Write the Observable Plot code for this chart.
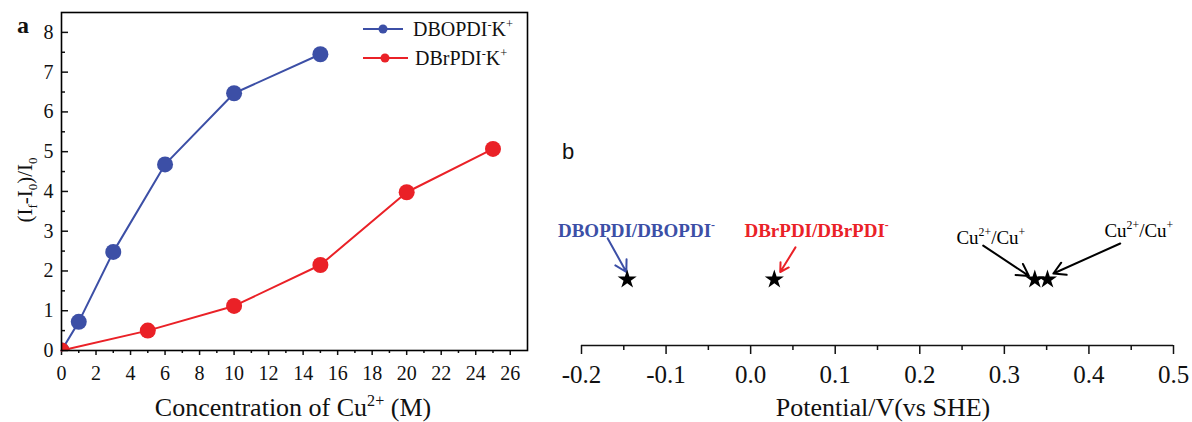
<!DOCTYPE html>
<html><head><meta charset="utf-8">
<script src="https://cdn.jsdelivr.net/npm/d3@7"></script>
<script src="https://cdn.jsdelivr.net/npm/@observablehq/plot@0.6"></script>
<style>
html,body{margin:0;padding:0;background:#fff;}
#wrap{position:relative;width:1192px;height:422px;overflow:hidden;font-family:"Liberation Serif",serif;}
#pa{position:absolute;left:0;top:0;}
#pb{position:absolute;left:540px;top:0;}
#wrap svg, #wrap svg text{font-family:"Liberation Serif",serif;}
</style></head><body>
<div id="wrap"><div id="pa"></div><div id="pb"></div></div>
<script>
// ---------- panel a data ----------
const concBlue = [0, 1, 3, 6, 10, 15];
const ratioBlue = [0, 0.72, 2.48, 4.68, 6.47, 7.45];
const concRed = [0, 5, 10, 15, 20, 25];
const ratioRed = [0, 0.5, 1.12, 2.15, 3.98, 5.07];
const seriesNames = ["DBOPDI^{-}K^{+}", "DBrPDI^{-}K^{+}"];
const seriesColors = ["#3c4fa6", "#ea2127"];
const xTicksA = [0, 2, 4, 6, 8, 10, 12, 14, 16, 18, 20, 22, 24, 26];
const xMinorA = [1, 3, 5, 7, 9, 11, 13, 15, 17, 19, 21, 23, 25];
const yTicksA = [0, 1, 2, 3, 4, 5, 6, 7, 8];
const yMinorA = [0.5, 1.5, 2.5, 3.5, 4.5, 5.5, 6.5, 7.5];

// ---------- panel b data ----------
const couples = ["DBOPDI/DBOPDI^{-}", "DBrPDI/DBrPDI^{-}", "Cu^{2+}/Cu^{+}", "Cu^{2+}/Cu^{+}"];
const potentials = [-0.146, 0.028, 0.336, 0.351];
const coupleColors = ["#3c4fa6", "#ea2127", "#000000", "#000000"];
const coupleBold = [true, true, false, false];
const starLevel = 0.22;
const labelX = [-0.135, 0.078, 0.284, 0.459];
const labelY = [0.383, 0.383, 0.36, 0.383];
const arrowX1 = [-0.169, 0.053, 0.275, 0.437];
const arrowY1 = [0.357, 0.327, 0.333, 0.34];
const arrowX2 = [-0.147, 0.035, 0.329, 0.358];
const arrowY2 = [0.245, 0.245, 0.232, 0.24];
const xTicksB = [-0.2, -0.1, 0, 0.1, 0.2, 0.3, 0.4, 0.5];
const xMinorB = [-0.15, -0.05, 0.05, 0.15, 0.25, 0.35, 0.45];

// ---------- helpers ----------
function richify(root) {
  d3.select(root).selectAll("text").each(function () {
    const t = this.textContent;
    if (!/[\^_]\{/.test(t)) return;
    const fs = parseFloat(getComputedStyle(this).fontSize) || 16;
    const sel = d3.select(this);
    sel.text(null);
    const re = /([\^_])\{([^}]*)\}|([^\^_]+)/g;
    let m, off = 0;
    while ((m = re.exec(t))) {
      if (m[3] !== undefined) {
        sel.append("tspan").attr("dy", -off).text(m[3]);
        off = 0;
      } else {
        const target = m[1] === "^" ? -0.38 * fs : 0.25 * fs;
        sel.append("tspan").attr("dy", target - off).attr("font-size", (0.62 * fs) + "px").text(m[2]);
        off = target;
      }
    }
  });
}

// ---------- panel a ----------
const dataA = [
  ...concBlue.map((c, i) => ({series: seriesNames[0], color: seriesColors[0], x: c, y: ratioBlue[i]})),
  ...concRed.map((c, i) => ({series: seriesNames[1], color: seriesColors[1], x: c, y: ratioRed[i]}))
];
const blueData = dataA.filter(d => d.series === seriesNames[0]);
const redData = dataA.filter(d => d.series === seriesNames[1]);

const plotA = Plot.plot({
  width: 545, height: 422,
  marginLeft: 61, marginRight: 18, marginTop: 12, marginBottom: 72,
  style: {fontFamily: "Liberation Serif", fontSize: "20px", color: "#111", background: "transparent"},
  x: {domain: [0, 27]},
  y: {domain: [0, 8.5]},
  color: {type: "identity"},
  marks: [
    Plot.axisX(xTicksA, {tickSize: 5, tickPadding: 10, tickFormat: d => String(d), label: null, strokeWidth: 1.5, fontSize: 20}),
    Plot.axisX(xMinorA, {tickSize: 3, tickFormat: () => "", label: null, strokeWidth: 1.5}),
    Plot.axisY(yTicksA, {tickSize: -7, tickPadding: 15, tickFormat: d => String(d), label: null, strokeWidth: 1.5, fontSize: 20}),
    Plot.axisY(yMinorA, {tickSize: -4, tickFormat: () => "", label: null, strokeWidth: 1.5}),
    Plot.line(blueData, {x: "x", y: "y", stroke: "color", strokeWidth: 2}),
    Plot.dot(blueData, {x: "x", y: "y", fill: "color", r: 8, clip: true}),
    Plot.line(redData, {x: "x", y: "y", stroke: "color", strokeWidth: 2}),
    Plot.dot(redData, {x: "x", y: "y", fill: "color", r: 8, clip: true}),
    Plot.frame({stroke: "#000", strokeWidth: 1.6})
  ]
});
document.getElementById("pa").appendChild(plotA);

// legend + titles for panel a
{
  const svg = d3.select(plotA);
  const rows = [
    {name: seriesNames[0], color: seriesColors[0], x1: 363, x2: 403, cx: 383, y: 29, tx: 413},
    {name: seriesNames[1], color: seriesColors[1], x1: 363, x2: 408, cx: 385, y: 58, tx: 415}
  ];
  const g = svg.append("g");
  rows.forEach(r => {
    g.append("line").attr("x1", r.x1).attr("x2", r.x2).attr("y1", r.y).attr("y2", r.y)
      .attr("stroke", r.color).attr("stroke-width", 2);
    g.append("circle").attr("cx", r.cx).attr("cy", r.y).attr("r", 4.5).attr("fill", r.color);
    g.append("text").attr("x", r.tx).attr("y", r.y + 7).attr("font-size", "20px").attr("text-anchor", "start")
      .attr("fill", "#111").text(r.name);
  });
  svg.append("text").attr("x", 17).attr("y", 33).attr("font-size", "24px").attr("font-weight", "bold")
    .attr("text-anchor", "start").attr("fill", "#111").text("a");
  svg.append("text").attr("transform", "translate(32,190) rotate(-90)").attr("text-anchor", "middle")
    .attr("font-size", "21px").attr("fill", "#111")
    .text("(I_{f}-I_{0})/I_{0}");
  svg.append("text").attr("x", 293).attr("y", 416).attr("text-anchor", "middle")
    .attr("font-size", "26px").attr("fill", "#111")
    .text("Concentration of Cu^{2+} (M)");
  richify(plotA);
}

// ---------- panel b ----------
const dataB = couples.map((c, i) => ({
  label: c, E: potentials[i], color: coupleColors[i], bold: coupleBold[i],
  lx: labelX[i], ly: labelY[i], ax1: arrowX1[i], ay1: arrowY1[i], ax2: arrowX2[i], ay2: arrowY2[i]
}));

const plotB = Plot.plot({
  width: 652, height: 422,
  marginLeft: 41, marginRight: 19, marginTop: 45, marginBottom: 77,
  style: {fontFamily: "Liberation Serif", fontSize: "25px", color: "#111", background: "transparent"},
  x: {domain: [-0.2, 0.5]},
  y: {domain: [0, 1], axis: null},
  color: {type: "identity"},
  marks: [
    Plot.ruleY([0], {stroke: "#111", strokeWidth: 1.6}),
    Plot.axisX(xTicksB, {tickSize: 9, tickPadding: 11, tickFormat: d => d.toFixed(1), label: null, strokeWidth: 1.5, fontSize: 25}),
    Plot.axisX(xMinorB, {tickSize: 5, tickFormat: () => "", label: null, strokeWidth: 1.5}),
    Plot.arrow(dataB, {x1: "ax1", y1: "ay1", x2: "ax2", y2: "ay2", stroke: "color", strokeWidth: 2, headLength: 10}),
    Plot.dot(dataB, {x: "E", y: () => starLevel, symbol: "star", r: 6, fill: "#000"}),
    Plot.text(dataB.filter(d => d.bold), {x: "lx", y: "ly", text: "label", fill: "color", fontSize: 19, fontWeight: "bold", textAnchor: "middle"}),
    Plot.text(dataB.filter(d => !d.bold), {x: "lx", y: "ly", text: "label", fill: "color", fontSize: 19, textAnchor: "middle"})
  ]
});
document.getElementById("pb").appendChild(plotB);
{
  const svg = d3.select(plotB);
  svg.append("text").attr("x", 22).attr("y", 159).attr("font-size", "22px").attr("text-anchor", "start")
    .attr("style", "font-family:'Liberation Sans',sans-serif").attr("fill", "#111").text("b");
  svg.append("text").attr("x", 343).attr("y", 416).attr("text-anchor", "middle")
    .attr("font-size", "26px").attr("fill", "#111")
    .text("Potential/V(vs SHE)");
  richify(plotB);
}
</script>
</body></html>
